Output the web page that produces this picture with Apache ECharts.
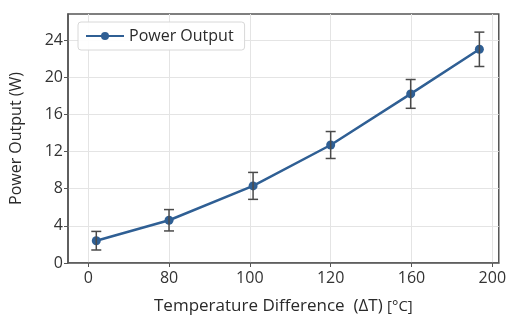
<!DOCTYPE html>
<html>
<head>
<meta charset="utf-8">
<script src="https://cdn.jsdelivr.net/npm/echarts@6/dist/echarts.min.js"></script>
<style>html,body{margin:0;padding:0;background:#fff;}#c{width:509px;height:320px;}</style>
</head>
<body>
<div id="c"></div>
<script>
// Tick labels of the x axis (evenly spaced positions 0..5)
const xTickLabels = ['0', '80', '100', '120', '160', '200'];
const xTickPos = [0, 1, 2, 3, 4, 5];
// Point positions along the x axis (in tick-index units)
const xPos = [0.1, 1.0, 2.04, 3.0, 3.99, 4.84];
// Power output (W) and error (±W)
const power = [2.4, 4.6, 8.3, 12.7, 18.2, 23.0];
const errs = [1.0, 1.15, 1.45, 1.45, 1.55, 1.85];
const yTicks = [0, 4, 8, 12, 16, 20, 24];

const lineColor = '#2f5f94';
const errColor = '#4a4a4a';
const font = '"Open Sans", "Noto Sans", sans-serif';

const chart = echarts.init(document.getElementById('c'), null, {renderer: 'canvas'});
const lineData = xPos.map((x, i) => [x, power[i]]);
const errData = xPos.map((x, i) => [x, power[i] - errs[i], power[i] + errs[i]]);

chart.setOption({
  backgroundColor: '#fff',
  animation: false,
  textStyle: {fontFamily: font},
  grid: {left: 66, right: 8, top: 14, bottom: 56, show: true, borderColor: '#555', borderWidth: 1.5, backgroundColor: 'transparent'},
  legend: {
    left: 78, top: 22,
    padding: [6, 11, 6, 7],
    itemWidth: 38, itemHeight: 10, itemGap: 10,
    borderColor: '#d8d8d8', borderWidth: 1, borderRadius: 3,
    backgroundColor: 'rgba(255,255,255,0.9)',
    textStyle: {fontSize: 16, color: '#2a2a2a', fontFamily: font},
    data: ['Power Output']
  },
  xAxis: {
    type: 'value', min: -0.25, max: 5.08,
    name: 'Temperature Difference  (ΔT) {u|[°C]}',
    nameLocation: 'middle', nameGap: 35,
    nameTextStyle: {fontSize: 17, color: '#2a2a2a', fontFamily: font, rich: {u: {fontSize: 15, color: '#2a2a2a', fontFamily: font}}},
    axisLine: {onZero: false, lineStyle: {color: '#555', width: 1.5}},
    axisTick: {show: true, length: 4, customValues: xTickPos, lineStyle: {color: '#555'}},
    axisLabel: {customValues: xTickPos, formatter: v => xTickLabels[Math.round(v)], fontSize: 16, color: '#333', margin: 7, fontFamily: font},
    splitLine: {show: true, lineStyle: {color: '#e4e4e4', width: 1}}
  },
  yAxis: {
    type: 'value', min: 0, max: 26.8,
    name: 'Power Output (W)',
    nameLocation: 'middle', nameGap: 44,
    nameTextStyle: {fontSize: 16, color: '#2a2a2a', fontFamily: font},
    axisLine: {show: true, onZero: false, lineStyle: {color: '#555', width: 1.5}},
    axisTick: {show: true, length: 4, customValues: yTicks, lineStyle: {color: '#555'}},
    axisLabel: {customValues: yTicks, fontSize: 16, color: '#333', margin: 5, fontFamily: font},
    splitLine: {show: true, lineStyle: {color: '#e4e4e4', width: 1}}
  },
  series: [
    {
      name: 'Power Output', type: 'line', data: lineData,
      symbol: 'circle', symbolSize: 9,
      itemStyle: {color: lineColor},
      lineStyle: {color: lineColor, width: 2.5},
      z: 3
    },
    {
      name: 'err', type: 'custom', data: errData, z: 4,
      encode: {x: 0, y: [1, 2]},
      renderItem: function (params, api) {
        const x = api.value(0);
        const lo = api.coord([x, api.value(1)]);
        const hi = api.coord([x, api.value(2)]);
        const cap = 5;
        const st = {stroke: errColor, lineWidth: 1.5};
        return {type: 'group', children: [
          {type: 'line', shape: {x1: lo[0], y1: lo[1], x2: hi[0], y2: hi[1]}, style: st},
          {type: 'line', shape: {x1: lo[0] - cap, y1: lo[1], x2: lo[0] + cap, y2: lo[1]}, style: st},
          {type: 'line', shape: {x1: hi[0] - cap, y1: hi[1], x2: hi[0] + cap, y2: hi[1]}, style: st}
        ]};
      }
    }
  ]
});
</script>
</body>
</html>
